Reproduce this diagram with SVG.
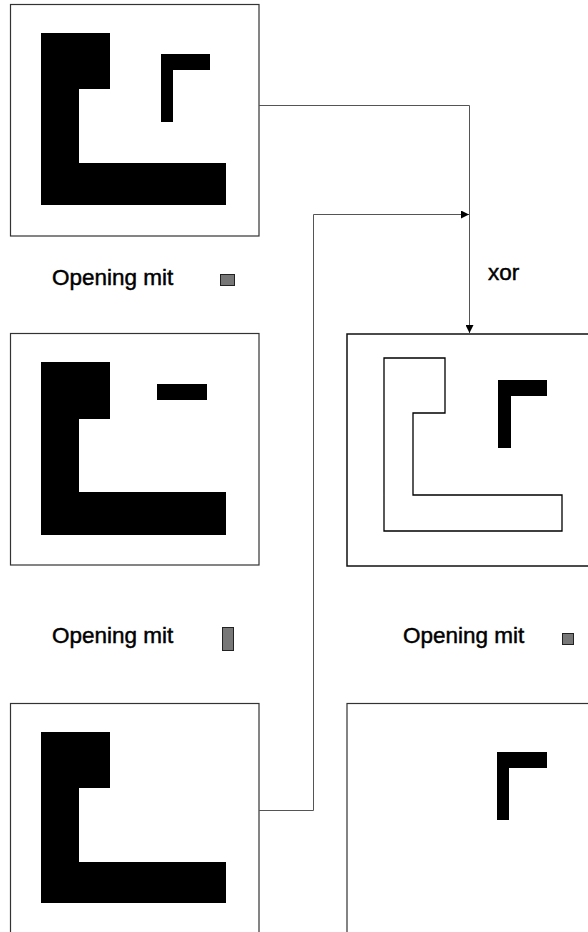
<svg xmlns="http://www.w3.org/2000/svg" width="588" height="932" viewBox="0 0 588 932">
<defs>
<style>
.frame{fill:#fff;stroke:#333;stroke-width:1.2}
.frame2{fill:#fff;stroke:#111;stroke-width:1.5}
.solid{fill:#000}
.outline{fill:none;stroke:#000;stroke-width:1.3}
.lbl{font-family:"Liberation Sans",Arial,sans-serif;font-size:22.5px;fill:#000;stroke:#000;stroke-width:0.45}
.sw{fill:#777;stroke:#222;stroke-width:1}
.conn{fill:none;stroke:#555;stroke-width:1}
</style>
<marker id="arr" viewBox="0 0 10 10" refX="10" refY="5" markerWidth="8" markerHeight="8" markerUnits="userSpaceOnUse" orient="auto">
<path d="M0,0 L10,5 L0,10 z" fill="#000"/>
</marker>
</defs>
<rect width="588" height="932" fill="#fff"/>

<g id="box-top-left">
<rect class="frame" x="10.5" y="4.5" width="248.5" height="231.5"/>
<path class="solid" d="M41,33 H110 V89 H79 V163 H226 V205 H41 Z"/>
<path class="solid" d="M161,54 H210 V70 H173 V122 H161 Z"/>
</g>

<g id="label-1">
<text class="lbl" x="52" y="285">Opening mit</text>
<rect class="sw" x="220.5" y="274.5" width="14" height="11"/>
</g>

<g id="box-mid-left">
<rect class="frame" x="10.5" y="333.5" width="248.5" height="231.5"/>
<path class="solid" d="M41,362 H110 V419 H79 V492 H226 V535 H41 Z"/>
<rect class="solid" x="157" y="384" width="50" height="16"/>
</g>

<g id="label-xor">
<text class="lbl" x="488" y="280">xor</text>
</g>

<g id="box-mid-right">
<rect class="frame2" x="347" y="334" width="250" height="232"/>
<path class="outline" d="M384,358 H445 V413 H413 V495 H562 V531 H384 Z"/>
<path class="solid" d="M498,380 H547 V396 H511 V448 H498 Z"/>
</g>

<g id="label-2">
<text class="lbl" x="52" y="643">Opening mit</text>
<rect class="sw" x="222.5" y="627.5" width="11" height="23"/>
</g>

<g id="label-3">
<text class="lbl" x="403" y="643">Opening mit</text>
<rect class="sw" x="562.5" y="633.5" width="11" height="11"/>
</g>

<g id="box-bottom-left">
<rect class="frame" x="10.5" y="703.5" width="248.5" height="240"/>
<path class="solid" d="M41,732 H110 V788 H79 V862 H226 V903 H41 Z"/>
</g>

<g id="box-bottom-right">
<rect class="frame" x="347" y="703.5" width="250" height="240"/>
<path class="solid" d="M497,752 H547 V768 H509 V820 H497 Z"/>
</g>

<g id="connectors">
<path class="conn" d="M259,105.5 H469.5 V333" marker-end="url(#arr)"/>
<path class="conn" d="M259,810.5 H313.5 V214.5 H469" marker-end="url(#arr)"/>
</g>
</svg>
